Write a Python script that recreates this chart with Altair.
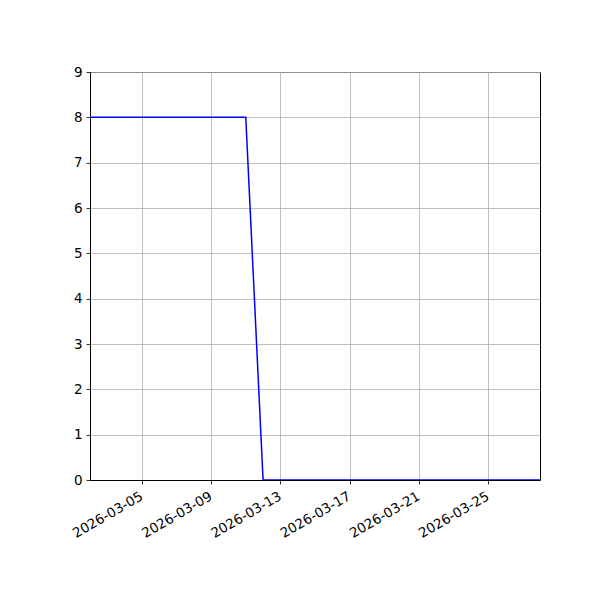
import altair as alt
import pandas as pd

dates = ["2026-03-02", "2026-03-03", "2026-03-04", "2026-03-05", "2026-03-06",
         "2026-03-07", "2026-03-08", "2026-03-09", "2026-03-10", "2026-03-11",
         "2026-03-12", "2026-03-13", "2026-03-14", "2026-03-15", "2026-03-16",
         "2026-03-17", "2026-03-18", "2026-03-19", "2026-03-20", "2026-03-21",
         "2026-03-22", "2026-03-23", "2026-03-24", "2026-03-25", "2026-03-26",
         "2026-03-27", "2026-03-28"]
values = [8, 8, 8, 8, 8, 8, 8, 8, 8, 8,
          0, 0, 0, 0, 0, 0, 0, 0, 0, 0,
          0, 0, 0, 0, 0, 0, 0]
tick_dates = ["2026-03-05", "2026-03-09", "2026-03-13", "2026-03-17",
              "2026-03-21", "2026-03-25"]
y_ticks = [0, 1, 2, 3, 4, 5, 6, 7, 8, 9]

df = pd.DataFrame({"date": dates, "value": values})

x_values = [alt.DateTime(year=int(d[:4]), month=int(d[5:7]), date=int(d[8:]), utc=True)
            for d in tick_dates]

chart = alt.Chart(df).mark_line(color="#0000ff", strokeWidth=1.5, clip=True).encode(
    x=alt.X("date:T",
            scale=alt.Scale(type="utc",
                            domain=[alt.DateTime(year=2026, month=3, date=2, utc=True),
                                    alt.DateTime(year=2026, month=3, date=28, utc=True)]),
            axis=alt.Axis(title=None, values=x_values, format="%Y-%m-%d",
                          labelAngle=-30, labelAlign="right", labelOverlap=False,
                          labelBaseline="top", labelPadding=5, labelOffset=-4)),
    y=alt.Y("value:Q",
            scale=alt.Scale(domain=[0, 9], nice=False, zero=False),
            axis=alt.Axis(title=None, values=y_ticks, labelPadding=4)),
).properties(
    width=450,
    height=408,
    background="white",
    padding={"left": 82, "top": 64, "right": 52, "bottom": 104},
    autosize=alt.AutoSizeParams(type="none"),
).configure_view(
    stroke="black", strokeWidth=1
).configure_axis(
    grid=True, gridColor="#b0b0b0", gridWidth=0.8, gridOpacity=1,
    domainColor="black", domainWidth=1,
    tickColor="black", tickSize=4, tickWidth=0.8,
    labelFont="DejaVu Sans", labelFontSize=13.5, labelColor="black",
)

chart.save("out.html", embed_options={"renderer": "svg", "actions": False})
